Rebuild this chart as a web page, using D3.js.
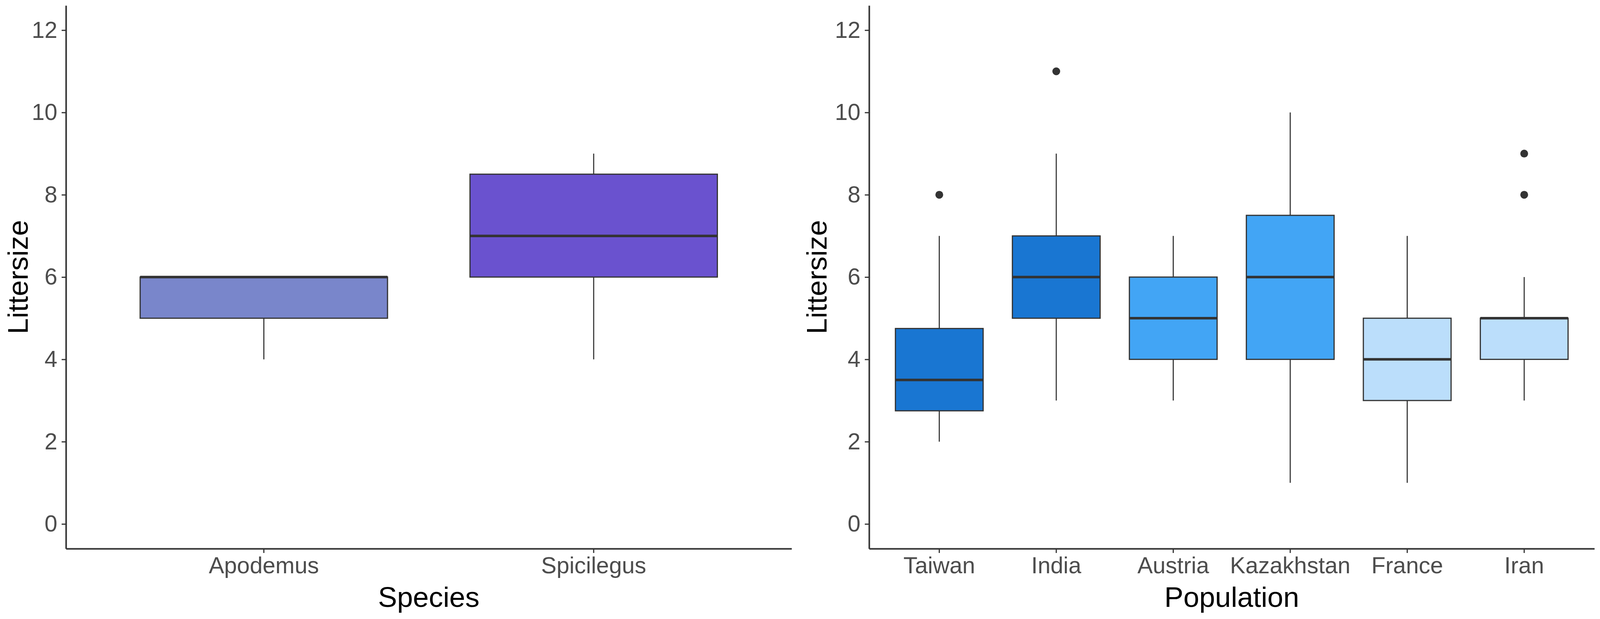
<!DOCTYPE html>
<html>
<head>
<meta charset="utf-8">
<script src="https://cdn.jsdelivr.net/npm/d3@7"></script>
<style>
  body { margin: 0; background: #fff; overflow: hidden; }
  svg { display: block; }
</style>
</head>
<body>
<script>
// left panel: species
var species = ["Apodemus", "Spicilegus"];
var speciesLow = [4, 4];
var speciesQ1 = [5, 6];
var speciesMed = [6, 7];
var speciesQ3 = [6, 8.5];
var speciesHigh = [6, 9];
var speciesOut = [[], []];
var speciesFill = ["#7986CB", "#6A52CF"];

// right panel: population
var populations = ["Taiwan", "India", "Austria", "Kazakhstan", "France", "Iran"];
var popLow = [2, 3, 3, 1, 1, 3];
var popQ1 = [2.75, 5, 4, 4, 3, 4];
var popMed = [3.5, 6, 5, 6, 4, 5];
var popQ3 = [4.75, 7, 6, 7.5, 5, 5];
var popHigh = [7, 9, 7, 10, 7, 6];
var popOut = [[8], [11], [], [], [], [8, 9]];
var popFill = ["#1976D2", "#1976D2", "#42A5F5", "#42A5F5", "#BBDEFB", "#BBDEFB"];

var yTicks = [0, 2, 4, 6, 8, 10, 12];

// the layout was measured on a 4562 wide picture; stretch x to the real window
var W = window.innerWidth || 4562;
var H = 1584;
var SX = W / 4562;
var FONT = "'Liberation Sans', Arial, Helvetica, sans-serif";
var INK = "#333333";
var TICK_FONT = 59, TITLE_FONT = 73;

var svg = d3.select("body").append("svg")
	.attr("width", W)
	.attr("height", H);

function drawPanel(cfg){
	var x = d3.scaleBand()
		.domain(cfg.cats)
		.range([cfg.left, cfg.right])
		.paddingInner(0.25)
		.paddingOuter(0.225);

	var y = d3.scaleLinear()
		.domain([-0.6, 12.6])
		.range([1404, 14]);

	var g = svg.append("g");

	var rows = cfg.cats.map(function(c, i){
		return {
			cat: c, low: cfg.low[i], q1: cfg.q1[i], med: cfg.med[i],
			q3: cfg.q3[i], high: cfg.high[i], out: cfg.out[i], fill: cfg.fill[i]
		};
	});

	var box = g.selectAll("g.box").data(rows).enter()
		.append("g").attr("class", "box");

	function mid(d){ return x(d.cat) + x.bandwidth() / 2; }

	// whiskers
	box.append("line")
		.attr("x1", mid).attr("x2", mid)
		.attr("y1", function(d){ return y(d.q3); })
		.attr("y2", function(d){ return y(d.high); })
		.attr("stroke", INK).attr("stroke-width", 2.8);
	box.append("line")
		.attr("x1", mid).attr("x2", mid)
		.attr("y1", function(d){ return y(d.q1); })
		.attr("y2", function(d){ return y(d.low); })
		.attr("stroke", INK).attr("stroke-width", 2.8);

	box.append("rect")
		.attr("x", function(d){ return x(d.cat); })
		.attr("width", x.bandwidth())
		.attr("y", function(d){ return y(d.q3); })
		.attr("height", function(d){ return y(d.q1) - y(d.q3); })
		.attr("fill", function(d){ return d.fill; })
		.attr("stroke", INK).attr("stroke-width", 3);

	box.append("line")
		.attr("x1", function(d){ return x(d.cat); })
		.attr("x2", function(d){ return x(d.cat) + x.bandwidth(); })
		.attr("y1", function(d){ return y(d.med); })
		.attr("y2", function(d){ return y(d.med); })
		.attr("stroke", INK).attr("stroke-width", 6.5);

	box.selectAll("circle")
		.data(function(d){ return d.out.map(function(v){ return {cat: d.cat, v: v}; }); })
		.enter().append("circle")
		.attr("cx", mid)
		.attr("cy", function(d){ return y(d.v); })
		.attr("r", 10)
		.attr("fill", INK);

	// axes
	var yAxis = g.append("g")
		.attr("transform", "translate(" + cfg.left + ",0)")
		.call(d3.axisLeft(y).tickValues(yTicks).tickSize(11).tickSizeOuter(0).tickPadding(11));

	var xAxis = g.append("g")
		.attr("transform", "translate(0,1404)")
		.call(d3.axisBottom(x).tickSize(11).tickSizeOuter(0).tickPadding(10));

	[yAxis, xAxis].forEach(function(ax){
		ax.select(".domain").attr("stroke", INK).attr("stroke-width", 4);
		ax.selectAll(".tick line").attr("stroke", INK).attr("stroke-width", 3);
		ax.selectAll(".tick text")
			.attr("fill", "#4D4D4D")
			.style("font-family", FONT)
			.style("font-size", TICK_FONT + "px");
	});

	// titles
	g.append("text")
		.attr("x", (cfg.left + cfg.right) / 2)
		.attr("y", 1553)
		.attr("text-anchor", "middle")
		.style("font-family", FONT)
		.style("font-size", TITLE_FONT + "px")
		.attr("fill", "#000")
		.text(cfg.xTitle);

	g.append("text")
		.attr("transform", "translate(" + cfg.titleX + ",709) rotate(-90)")
		.attr("text-anchor", "middle")
		.style("font-family", FONT)
		.style("font-size", TITLE_FONT + "px")
		.attr("fill", "#000")
		.text("Littersize");
}

drawPanel({
	cats: species, low: speciesLow, q1: speciesQ1, med: speciesMed,
	q3: speciesQ3, high: speciesHigh, out: speciesOut, fill: speciesFill,
	left: 188 * SX, right: 2257 * SX, titleX: 71, xTitle: "Species"
});

drawPanel({
	cats: populations, low: popLow, q1: popQ1, med: popMed,
	q3: popQ3, high: popHigh, out: popOut, fill: popFill,
	left: 2478 * SX, right: 4546 * SX, titleX: 2357 * SX, xTitle: "Population"
});
</script>
</body>
</html>
